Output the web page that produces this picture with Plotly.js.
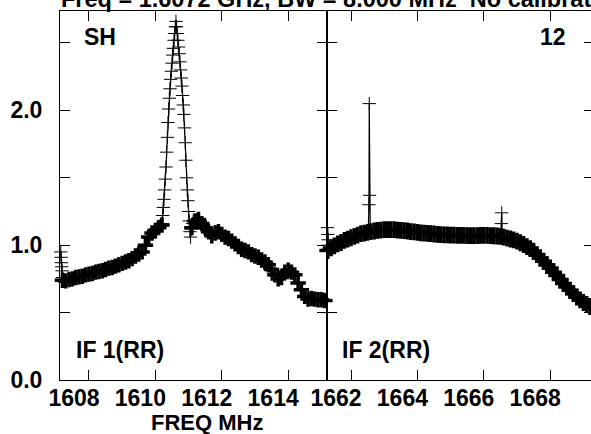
<!DOCTYPE html>
<html>
<head>
<meta charset="utf-8">
<script src="https://cdn.plot.ly/plotly-3.0.1.min.js"></script>
<style>
html,body{margin:0;padding:0;background:#fff;overflow:hidden;width:591px;height:434px;}
#chart{width:600px;height:434px;}
</style>
</head>
<body>
<div id="chart"></div>
<script>
// ---------- data ----------
// IF 1 : smooth wings of the spectrum (MHz, amplitude)
var if1BandX = [1607.2,1607.3,1607.4,1607.5,1607.6,1607.7,1607.8,1607.9,1608.0,1608.1,1608.2,1608.3,1608.4,1608.5,1608.6,1608.7,1608.8,1608.9,1609.0,1609.1,1609.2,1609.3,1609.4,1609.5,1609.6,1609.7,1609.8,1609.9,1610.0,1610.1,1610.2,
  1611.1,1611.2,1611.3,1611.4,1611.5,1611.6,1611.7,1611.8,1611.9,1612.0,1612.1,1612.2,1612.3,1612.4,1612.5,1612.6,1612.7,1612.8,1612.9,1613.0,1613.1,1613.2,1613.3,1613.4,1613.5,1613.6,1613.7,1613.8,1613.9,1614.0,1614.1,1614.2,1614.3,1614.4,1614.5,1614.6,1614.7,1614.8,1614.9,1615.0,1615.1];
var if1BandY = [0.74,0.735,0.745,0.75,0.76,0.765,0.77,0.78,0.785,0.79,0.80,0.805,0.81,0.82,0.83,0.835,0.845,0.855,0.865,0.875,0.885,0.90,0.92,0.935,0.95,1.00,1.06,1.09,1.11,1.13,1.15,
  1.13,1.18,1.19,1.16,1.13,1.10,1.07,1.09,1.10,1.08,1.06,1.05,1.03,1.01,0.99,0.97,0.96,0.95,0.93,0.92,0.91,0.89,0.875,0.855,0.82,0.78,0.75,0.76,0.80,0.815,0.80,0.78,0.72,0.67,0.62,0.60,0.605,0.60,0.595,0.595,0.59];
// IF 1 : first channels at the band edge
var if1EdgeX = [1607.15,1607.16,1607.17,1607.18,1607.19,1607.20];
var if1EdgeY = [0.95,0.91,0.87,0.84,0.81,0.76];
// IF 1 : the line peak
var if1PeakX = [1610.00,1610.02,1610.04,1610.06,1610.08,1610.10,1610.12,1610.14,1610.16,1610.18,1610.20,1610.22,1610.24,1610.26,1610.28,1610.30,1610.32,1610.34,1610.36,1610.38,1610.40,1610.42,1610.44,1610.46,1610.48,1610.50,1610.52,1610.54,1610.56,1610.58,1610.60,1610.62,1610.64,1610.66,1610.68,1610.70,1610.72,1610.74,1610.76,1610.78,1610.80,1610.82,1610.84,1610.86,1610.88,1610.90,1610.92,1610.94,1610.96,1610.98,1611.00,1611.02,1611.04,1611.06,1611.08,1611.10,1611.12,1611.14,1611.16];
var if1PeakY = [1.11,1.12,1.12,1.13,1.13,1.13,1.14,1.14,1.15,1.15,1.16,1.22,1.28,1.34,1.41,1.49,1.58,1.69,1.80,1.91,2.01,2.09,2.16,2.23,2.29,2.35,2.41,2.46,2.52,2.57,2.62,2.66,2.62,2.57,2.52,2.47,2.42,2.36,2.30,2.24,2.18,2.11,2.04,1.97,1.87,1.76,1.63,1.50,1.41,1.33,1.25,1.18,1.10,1.06,1.12,1.13,1.16,1.18,1.18];
// IF 1 : last channels
var if1TailX = [1615.15,1615.17];
var if1TailY = [0.585,0.50];

// IF 2
var if2BandX = [1661.3,1661.4,1661.5,1661.6,1661.7,1661.8,1661.9,1662.0,1662.1,1662.2,1662.3,1662.4,1662.5,1662.6,1662.7,1662.8,1662.9,1663.0,1663.1,1663.2,1663.3,1663.4,1663.5,1663.6,1663.7,1663.8,1663.9,1664.0,1664.1,1664.2,1664.3,1664.4,1664.5,1664.6,1664.7,1664.8,1664.9,1665.0,1665.1,1665.2,1665.3,1665.4,1665.5,1665.6,1665.7,1665.8,1665.9,1666.0,1666.1,1666.2,1666.3,1666.4,1666.5,1666.6,1666.7,1666.8,1666.9,1667.0,1667.1,1667.2,1667.3,1667.4,1667.5,1667.6,1667.7,1667.8,1667.9,1668.0,1668.1,1668.2,1668.3,1668.4,1668.5,1668.6,1668.7,1668.8,1668.9,1669.0,1669.1,1669.2,1669.3];
var if2BandY = [0.96,0.98,0.995,1.01,1.02,1.035,1.045,1.055,1.065,1.075,1.085,1.09,1.095,1.10,1.105,1.11,1.112,1.115,1.115,1.115,1.115,1.112,1.11,1.108,1.105,1.10,1.098,1.095,1.092,1.09,1.088,1.085,1.083,1.08,1.078,1.077,1.076,1.075,1.074,1.073,1.072,1.072,1.071,1.071,1.071,1.071,1.072,1.072,1.072,1.071,1.07,1.068,1.065,1.06,1.053,1.046,1.04,1.03,1.018,1.005,0.99,0.975,0.955,0.93,0.905,0.88,0.855,0.83,0.80,0.775,0.745,0.715,0.69,0.665,0.64,0.615,0.595,0.575,0.56,0.545,0.535];
var if2EdgeX = [1661.29,1661.30,1661.31,1661.32,1661.33];
var if2EdgeY = [1.13,1.08,1.04,1.00,0.97];
var if2Spike1X = [1662.52,1662.54,1662.55,1662.56,1662.58];
var if2Spike1Y = [1.10,1.30,2.05,1.37,1.10];
var if2Spike2X = [1666.51,1666.53,1666.54,1666.56];
var if2Spike2Y = [1.065,1.16,1.24,1.06];

var if1Ticks = [1608,1610,1612,1614];
var if2Ticks = [1662,1664,1666,1668];
var yTickVals = [0,0.5,1,1.5,2,2.5];
var yTickText = ['0.0','','1.0','','2.0',''];

// ---------- styling ----------
var FONT = 'Liberation Sans, Arial, Helvetica, sans-serif';
var bandMarker1 = {symbol:'cross-thin', size:11, line:{color:'#000', width:3.5}};
var bandMarker2 = {symbol:'cross-thin', size:12, line:{color:'#000', width:3.5}};
var thinMarker = {symbol:'cross-thin', size:9.5, line:{color:'#000', width:1}};

function join() {
  var out = [];
  for (var i = 0; i < arguments.length; i++) {
    if (i > 0) out.push(null);
    out = out.concat(arguments[i]);
  }
  return out;
}

var traces = [
  {x:if1BandX, y:if1BandY, xaxis:'x', yaxis:'y', mode:'markers', marker:bandMarker1, cliponaxis:false, hoverinfo:'skip'},
  {x:join(if1EdgeX, if1PeakX, if1TailX), y:join(if1EdgeY, if1PeakY, if1TailY), xaxis:'x', yaxis:'y',
   mode:'lines+markers', line:{color:'#000', width:1.2}, marker:thinMarker, connectgaps:false, cliponaxis:false, hoverinfo:'skip'},
  {x:if2BandX, y:if2BandY, xaxis:'x2', yaxis:'y2', mode:'markers', marker:bandMarker2, cliponaxis:false, hoverinfo:'skip'},
  {x:join(if2EdgeX, if2Spike1X, if2Spike2X), y:join(if2EdgeY, if2Spike1Y, if2Spike2Y), xaxis:'x2', yaxis:'y2',
   mode:'lines+markers', line:{color:'#000', width:1.2}, marker:thinMarker, connectgaps:false, cliponaxis:false, hoverinfo:'skip'}
];

var tickFont = {family:FONT, size:23, color:'#000', weight:'bold'};
function xAxis(dom, range, vals, anchor) {
  return {domain:dom, range:range, anchor:anchor, tickvals:vals, ticktext:vals.map(String),
    ticks:'inside', ticklen:10, tickwidth:1, tickcolor:'#000',
    showline:true, linecolor:'#000', linewidth:1, mirror:'ticks',
    showgrid:false, zeroline:false, tickfont:tickFont, ticklabelshift:-15, ticklabelstandoff:-3};
}
function yAxis(anchor, labels) {
  return {domain:[0,1], range:[0,2.737], anchor:anchor, tickvals:yTickVals, ticktext:yTickText,
    showticklabels:labels, ticks:'inside', ticklen:10, tickwidth:1, tickcolor:'#000',
    showline:true, linecolor:'#000', linewidth:1, mirror:'ticks',
    showgrid:false, zeroline:false, tickfont:tickFont, ticklabelstandoff:12};
}

var lblFont = {family:FONT, size:23, color:'#000', weight:'bold'};
function ann(text, x, y, xanchor, yanchor, extra) {
  var a = {text:text, xref:'paper', yref:'paper', x:x, y:y, xanchor:xanchor, yanchor:yanchor,
    showarrow:false, font:lblFont, borderpad:0};
  if (extra) for (var k in extra) a[k] = extra[k];
  return a;
}

var layout = {
  width:600, height:434,
  margin:{l:60, r:6, t:11, b:54, pad:0},
  paper_bgcolor:'#fff', plot_bgcolor:'#fff',
  showlegend:false,
  xaxis: xAxis([0,0.5], [1607.127,1615.17], if1Ticks, 'y'),
  xaxis2: xAxis([0.5,1], [1661.277,1669.32], if2Ticks, 'y2'),
  yaxis: yAxis('x', true),
  yaxis2: yAxis('x2', false),
  annotations:[
    ann('Freq = 1.6072 GHz, BW = 8.000 MHz \u00a0No calibration', 0, 1, 'left', 'bottom', {yshift:-2, font:{family:FONT, size:23.5, color:'#000', weight:'bold'}}),
    ann('SH', 0.0431, 0.9295, 'left', 'middle'),
    ann('12', 0.9494, 0.9295, 'right', 'middle'),
    ann('IF 1(RR)', 0.0281, 0.08, 'left', 'middle'),
    ann('IF 2(RR)', 0.5262, 0.08, 'left', 'middle'),
    ann('FREQ MHz', 0.2753, -0.114, 'center', 'middle', {font:{family:FONT, size:22, color:'#000', weight:'bold'}})
  ]
};

Plotly.newPlot('chart', traces, layout, {staticPlot:true, displayModeBar:false});
</script>
</body>
</html>
